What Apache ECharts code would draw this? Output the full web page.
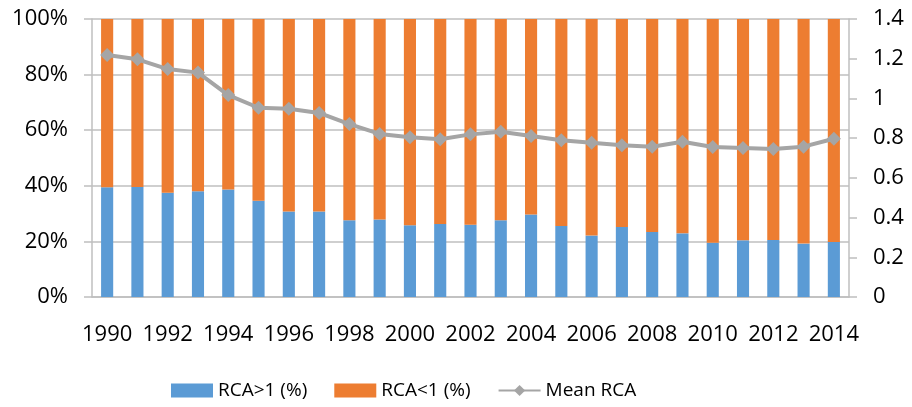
<!DOCTYPE html>
<html>
<head>
<meta charset="utf-8">
<script src="https://cdn.jsdelivr.net/npm/echarts@6/dist/echarts.min.js"></script>
<style>
  html, body { margin: 0; padding: 0; background: #fff; }
  #chart { width: 912px; height: 407px; }
</style>
</head>
<body>
<div id="chart"></div>
<script>
const years = []
for (let y = 1990; y <= 2014; y++) years.push(String(y))

// share of products with RCA>1, in %
const rcaAbove = [39.5, 39.6, 37.5, 38.0, 38.7, 34.6, 30.8, 30.8, 27.6, 27.9,
  25.8, 26.3, 26.0, 27.6, 29.7, 25.5, 22.1, 25.2, 23.4, 22.9,
  19.5, 20.4, 20.5, 19.2, 19.8]
const rcaBelow = rcaAbove.map(v => +(100 - v).toFixed(1))
const meanRca = [1.219, 1.197, 1.148, 1.13, 1.017, 0.953, 0.948, 0.927, 0.871, 0.821,
  0.804, 0.794, 0.819, 0.832, 0.811, 0.789, 0.777, 0.764, 0.757, 0.782,
  0.755, 0.750, 0.745, 0.757, 0.797]

const font = '"Open Sans", sans-serif'
const axisGray = '#bfbfbf'

const chart = echarts.init(document.getElementById('chart'))
chart.setOption({
  animation: false,
  textStyle: { fontFamily: font },
  grid: { left: 92, right: 63, top: 19, bottom: 110 },
  legend: {
    top: 376,
    left: 166,
    itemWidth: 42,
    itemHeight: 14,
    itemGap: 27,
    textStyle: { fontSize: 19, color: '#000', fontFamily: font },
    data: [
      { name: 'RCA>1 (%)', icon: 'rect' },
      { name: 'RCA<1 (%)', icon: 'rect' },
      { name: 'Mean RCA' },
    ],
  },
  xAxis: {
    type: 'category',
    data: years,
    boundaryGap: true,
    axisLine: { lineStyle: { color: axisGray, width: 1.5 } },
    axisTick: { interval: 0, length: 8, lineStyle: { color: axisGray, width: 1.5 } },
    axisLabel: { interval: 1, color: '#000', fontSize: 22, margin: 27, fontFamily: font },
  },
  yAxis: [{
    type: 'value',
    min: 0, max: 100, interval: 20,
    axisLine: { show: true, lineStyle: { color: axisGray, width: 1.5 } },
    axisTick: { show: true, length: 8, lineStyle: { color: axisGray, width: 1.5 } },
    axisLabel: { formatter: '{value}%', color: '#000', fontSize: 22, margin: 24, fontFamily: font },
    splitLine: { lineStyle: { color: axisGray, width: 1.5 } },
  }, {
    type: 'value',
    min: 0, max: 1.4, interval: 0.2,
    position: 'right',
    axisLine: { show: true, lineStyle: { color: axisGray, width: 1.5 } },
    axisTick: { show: true, length: 8, lineStyle: { color: axisGray, width: 1.5 } },
    axisLabel: { color: '#000', fontSize: 22, margin: 24, fontFamily: font },
    splitLine: { show: false },
  }],
  series: [{
    name: 'RCA>1 (%)',
    type: 'bar',
    stack: 'share',
    data: rcaAbove,
    barWidth: '40%',
    itemStyle: { color: '#5b9bd5' },
  }, {
    name: 'RCA<1 (%)',
    type: 'bar',
    stack: 'share',
    data: rcaBelow,
    barWidth: '40%',
    itemStyle: { color: '#ed7d31' },
  }, {
    name: 'Mean RCA',
    type: 'line',
    yAxisIndex: 1,
    data: meanRca,
    symbol: 'diamond',
    symbolSize: 14,
    lineStyle: { color: '#a5a5a5', width: 4 },
    itemStyle: { color: '#a5a5a5' },
  }],
})
</script>
</body>
</html>
